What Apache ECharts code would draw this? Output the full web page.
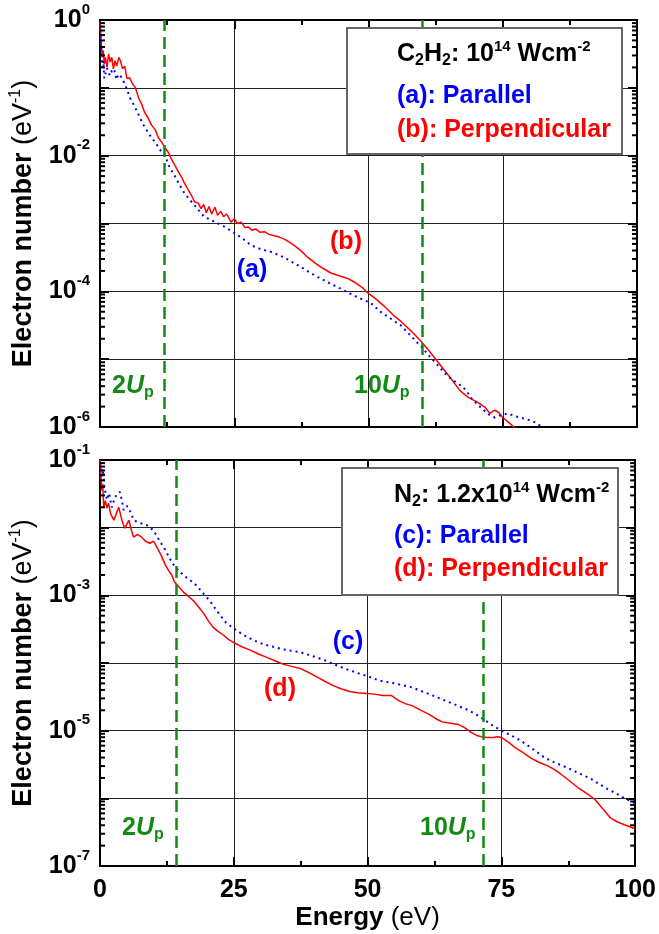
<!DOCTYPE html>
<html><head><meta charset="utf-8">
<script src="https://cdn.jsdelivr.net/npm/echarts@6/dist/echarts.min.js"></script>
<style>html,body{margin:0;padding:0;background:#fff}#c{width:659px;height:934px}</style>
</head><body><div id="c"></div>
<script>
// ---------- DATA (energies in eV, values as log10 of electron number) ----------
const energyTicks = [0, 25, 50, 75, 100];

// Top panel: C2H2, 1e14 W/cm2
const c2h2PerpE = [0,0.2,0.4,0.6,0.8,1.0,1.3,1.6,1.9,2.2,2.5,2.8,3.1,3.5,3.8,4.2,4.6,5.0,5.5,6.0,6.6,7.2,7.8,8.3,9.0,9.6,10.3,10.9,11.5,12.0,12.7,13.3,14.0,14.6,15.2,15.7,16.4,17.0,17.6,18.3,18.8,19.3,19.8,20.3,20.8,21.4,21.9,22.5,23.0,23.6,24.4,25.0,25.6,26.3,27.0,27.6,28.3,29.0,29.8,30.6,31.5,32.5,33.4,34.3,35.2,36.1,37.4,38.7,40.0,41.5,43.0,44.5,46.1,47.5,48.8,49.8,51.2,52.8,54.6,56.0,57.2,58.5,59.6,61.0,62.4,63.8,65.2,67.0,68.5,70.2,71.7,72.6,73.5,74.3,75.0,76.2,77.5];
const c2h2PerpLog = [-0.02,-0.3,-0.55,-0.45,-0.65,-0.55,-0.7,-0.5,-0.62,-0.55,-0.72,-0.6,-0.68,-0.55,-0.6,-0.72,-0.68,-0.86,-0.85,-0.93,-1.0,-1.15,-1.25,-1.36,-1.45,-1.55,-1.62,-1.74,-1.8,-1.87,-1.95,-2.05,-2.15,-2.24,-2.32,-2.4,-2.5,-2.58,-2.68,-2.7,-2.78,-2.72,-2.84,-2.75,-2.86,-2.76,-2.88,-2.82,-2.9,-2.86,-2.98,-2.93,-3.0,-2.98,-3.06,-3.05,-3.1,-3.08,-3.13,-3.12,-3.16,-3.18,-3.2,-3.23,-3.27,-3.32,-3.4,-3.5,-3.58,-3.66,-3.73,-3.77,-3.81,-3.87,-3.94,-4.02,-4.1,-4.21,-4.35,-4.44,-4.53,-4.63,-4.72,-4.85,-4.99,-5.13,-5.27,-5.46,-5.56,-5.63,-5.71,-5.8,-5.75,-5.79,-5.86,-5.94,-6.03];

const c2h2ParE = [0,0.15,0.3,0.45,0.6,0.8,1.0,1.3,1.6,1.9,2.2,2.6,3.1,3.4,3.7,4.1,4.4,5.0,5.6,6.3,7.2,8.1,9.3,10.6,11.5,12.4,13.0,13.8,14.8,15.7,16.7,17.5,18.3,19.4,20.7,22.0,23.5,25.0,26.5,28.1,30.0,31.9,34.3,35.8,37.4,39.0,40.6,42.5,44.3,46.2,48.0,50.4,52.2,54.1,56.0,58.3,60.0,61.5,63.0,64.6,66.1,67.6,68.5,69.4,71.0,72.6,73.5,74.5,75.9,77.3,78.7,80.0,81.3,82.5];
const c2h2ParLog = [-0.15,-0.35,-0.5,-0.7,-0.6,-0.86,-0.8,-0.71,-0.78,-0.82,-0.75,-0.72,-0.88,-0.8,-0.82,-0.85,-0.87,-1.02,-1.15,-1.25,-1.4,-1.55,-1.7,-1.84,-1.95,-2.06,-2.18,-2.28,-2.43,-2.55,-2.65,-2.72,-2.8,-2.9,-2.95,-3.0,-3.06,-3.14,-3.22,-3.32,-3.38,-3.42,-3.5,-3.57,-3.64,-3.72,-3.79,-3.87,-3.94,-4.02,-4.09,-4.17,-4.3,-4.4,-4.5,-4.69,-4.83,-4.97,-5.1,-5.24,-5.33,-5.41,-5.5,-5.6,-5.72,-5.83,-5.86,-5.83,-5.8,-5.84,-5.87,-5.9,-5.94,-6.02];

// Bottom panel: N2, 1.2e14 W/cm2
const n2PerpE = [0,0.15,0.3,0.5,0.7,1.0,1.3,1.6,2.0,2.6,3.0,3.5,4.1,4.6,5.0,5.4,5.9,6.3,7.0,7.8,8.5,9.3,10.0,10.7,11.5,12.2,12.8,13.4,13.9,14.8,15.7,16.6,17.6,18.5,19.4,20.2,21.1,22.0,23.1,24.0,25.0,26.5,28.1,29.7,31.3,32.8,34.3,35.8,37.4,39.0,40.6,42.0,43.5,45.0,46.7,48.2,49.8,51.3,52.8,54.4,55.9,57.0,58.3,60.0,61.5,62.7,63.9,65.5,67.0,68.2,69.4,70.4,71.3,72.4,73.5,74.3,75.0,76.3,77.6,79.0,80.6,82.1,83.7,85.0,86.1,87.7,89.3,90.8,92.4,93.9,95.4,96.7,98.0,99.0,100];
const n2PerpLog = [-1.0,-1.2,-1.45,-1.35,-1.7,-1.6,-1.71,-1.64,-1.8,-1.89,-1.8,-1.7,-1.89,-2.01,-1.95,-1.89,-2.05,-2.14,-2.1,-2.14,-2.2,-2.23,-2.2,-2.3,-2.42,-2.55,-2.63,-2.7,-2.8,-2.88,-2.96,-3.02,-3.09,-3.18,-3.27,-3.37,-3.47,-3.53,-3.59,-3.65,-3.7,-3.76,-3.81,-3.87,-3.92,-3.97,-4.02,-4.05,-4.08,-4.14,-4.21,-4.27,-4.33,-4.38,-4.42,-4.44,-4.45,-4.46,-4.48,-4.48,-4.56,-4.6,-4.63,-4.7,-4.76,-4.82,-4.87,-4.89,-4.91,-4.96,-5.03,-5.07,-5.09,-5.1,-5.1,-5.09,-5.1,-5.17,-5.25,-5.32,-5.41,-5.47,-5.52,-5.58,-5.64,-5.74,-5.84,-5.92,-6.01,-6.15,-6.29,-6.35,-6.39,-6.42,-6.45];

const n2ParE = [0,0.2,0.4,0.6,0.8,1.0,1.3,1.7,2.2,2.8,3.3,3.7,4.1,4.4,5.0,5.4,6.3,7.4,8.7,10.0,11.1,12.0,12.8,13.9,14.8,15.7,17.6,19.3,20.7,22.2,23.5,25.0,26.5,28.1,29.7,31.3,32.8,34.3,35.8,37.4,39.0,40.6,42.0,43.5,45.0,46.7,48.2,49.8,52.2,55.0,58.3,61.5,64.6,66.8,68.9,70.5,72.0,73.5,75.0,76.8,78.7,81.0,83.1,85.2,87.4,89.5,91.7,93.3,94.8,96.5,98.0,100];
const n2ParLog = [-0.95,-1.1,-1.25,-1.15,-1.4,-1.47,-1.59,-1.49,-1.7,-1.55,-1.5,-1.47,-1.6,-1.74,-1.68,-1.71,-1.89,-1.93,-1.96,-2.04,-2.19,-2.3,-2.42,-2.57,-2.64,-2.71,-2.82,-2.97,-3.1,-3.27,-3.4,-3.49,-3.57,-3.64,-3.7,-3.74,-3.77,-3.8,-3.82,-3.84,-3.88,-3.92,-3.96,-4.01,-4.06,-4.11,-4.15,-4.19,-4.26,-4.3,-4.36,-4.46,-4.56,-4.63,-4.7,-4.77,-4.85,-4.93,-5.0,-5.07,-5.15,-5.28,-5.4,-5.48,-5.55,-5.63,-5.71,-5.79,-5.86,-5.93,-6.0,-6.07];

// Ponderomotive energy markers (2Up, 10Up)
const upLinesTop = [12, 60];
const upLinesBottom = [14.3, 71.7];

// ---------- STYLE ----------
const FF = '"Liberation Sans", Arial, Helvetica, sans-serif';
const RED = '#ff0000', BLUE = '#0000ff', GREEN = '#138a13';
const GRID_TOP = {left: 97, top: 20, width: 540, height: 407};
const GRID_BOT = {left: 97, top: 460, width: 540, height: 406};

const toPairs = (E, L) => E.map((e, i) => [e, Math.pow(10, L[i])]);

const tickRich = {
  b: {fontFamily: FF, fontSize: 25, fontWeight: 'bold', color: '#000', lineHeight: 36},
  s: {fontFamily: FF, fontSize: 15, fontWeight: 'bold', color: '#000', verticalAlign: 'top', lineHeight: 10}
};
const yNameRich = {
  b: {fontFamily: FF, fontSize: 27, fontWeight: 'bold', color: '#000', lineHeight: 32},
  n: {fontFamily: FF, fontSize: 27, fontWeight: 'normal', color: '#000', lineHeight: 32},
  s: {fontFamily: FF, fontSize: 16, fontWeight: 'normal', color: '#000', verticalAlign: 'top', lineHeight: 12}
};
const xNameRich = {
  b: {fontFamily: FF, fontSize: 26, fontWeight: 'bold', color: '#000', lineHeight: 30},
  n: {fontFamily: FF, fontSize: 26, fontWeight: 'normal', color: '#000', lineHeight: 30}
};

function xAxisPair(gridIndex, showLabels) {
  const common = {
    gridIndex, type: 'value', min: 0, max: 100, interval: 25,
    axisLine: {show: true, onZero: false, lineStyle: {color: '#000', width: 2}},
    axisTick: {show: true, inside: true, length: 9, lineStyle: {color: '#000', width: 2}},
    minorTick: {show: true, splitNumber: 2, length: 5, lineStyle: {color: '#000', width: 2}},
    minorSplitLine: {show: false}
  };
  return [
    Object.assign({}, common, {
      position: 'bottom',
      splitLine: {show: true, lineStyle: {color: '#222', width: 1}},
      axisLabel: showLabels ? {show: true, margin: 12, fontFamily: FF, fontSize: 25, fontWeight: 'bold', color: '#000',
        formatter: v => energyTicks.includes(v) ? String(v) : ''} : {show: false},
      name: showLabels ? '{b|Energy }{n|(eV)}' : '',
      nameLocation: 'middle', nameGap: 37,
      nameTextStyle: {rich: xNameRich}
    }),
    Object.assign({}, common, {position: 'top', splitLine: {show: false}, axisLabel: {show: false}})
  ];
}

function yAxisPair(gridIndex, min, max, labelParity) {
  const common = {
    gridIndex, type: 'log', logBase: 10, min, max, splitNumber: Math.round(Math.log10(max / min)),
    interval: 1,
    axisLine: {show: true, onZero: false, lineStyle: {color: '#000', width: 2}},
    axisTick: {show: true, inside: true, length: 9, lineStyle: {color: '#000', width: 2}},
    minorTick: {show: false}
  };
  return [
    Object.assign({}, common, {
      position: 'left',
      splitLine: {show: true, lineStyle: {color: '#222', width: 1}},
      axisLabel: {show: true, margin: 10, rich: tickRich,
        formatter: v => {
          const e = Math.round(Math.log10(v));
          if (Math.abs(e % 2) !== labelParity) return '';
          return '{b|10}{s|' + (e < 0 ? '-' + (-e) : e) + '}';
        }},
      name: '{b|Electron number }{n|(eV}{s|-1}{n|)}',
      nameLocation: 'middle', nameGap: 60, nameRotate: 90,
      nameTextStyle: {rich: yNameRich}
    }),
    Object.assign({}, common, {position: 'right', splitLine: {show: false}, axisLabel: {show: false}})
  ];
}

// minor log ticks (2..9 x 10^k), drawn as axis decoration on both sides
function minorVals(minExp, maxExp) {
  const a = [];
  for (let e = minExp; e < maxExp; e++) for (let k = 2; k <= 9; k++) a.push([0, k * Math.pow(10, e)]);
  return a;
}
function minorTickSeries(xi, yi, minExp, maxExp) {
  return {
    type: 'custom', xAxisIndex: xi, yAxisIndex: yi, silent: true, clip: false, z: 5,
    data: minorVals(minExp, maxExp),
    renderItem: (params, api) => {
      const cs = params.coordSys;
      const y = api.coord([0, api.value(1)])[1];
      const st = {stroke: '#000', lineWidth: 2};
      return {type: 'group', children: [
        {type: 'line', shape: {x1: cs.x, y1: y, x2: cs.x + 5, y2: y}, style: st},
        {type: 'line', shape: {x1: cs.x + cs.width - 5, y1: y, x2: cs.x + cs.width, y2: y}, style: st}
      ]};
    }
  };
}

function upMarkLine(vals) {
  return {silent: true, symbol: ['none', 'none'], label: {show: false},
    lineStyle: {color: GREEN, type: [12, 6], width: 2.5},
    data: vals.map(v => ({xAxis: v}))};
}

const xs = xAxisPair(0, false).concat(xAxisPair(1, true));
const ys = yAxisPair(0, 1e-6, 1, 0).concat(yAxisPair(1, 1e-7, 1e-1, 1));

const series = [
  {type: 'line', name: '(b): Perpendicular', xAxisIndex: 0, yAxisIndex: 0, data: toPairs(c2h2PerpE, c2h2PerpLog),
   showSymbol: false, lineStyle: {color: RED, width: 1.5}, z: 3, markLine: upMarkLine(upLinesTop)},
  {type: 'line', name: '(a): Parallel', xAxisIndex: 0, yAxisIndex: 0, data: toPairs(c2h2ParE, c2h2ParLog),
   showSymbol: false, lineStyle: {color: BLUE, width: 2, type: [2, 4]}, z: 4},
  {type: 'line', name: '(d): Perpendicular', xAxisIndex: 2, yAxisIndex: 2, data: toPairs(n2PerpE, n2PerpLog),
   showSymbol: false, lineStyle: {color: RED, width: 1.5}, z: 3, markLine: upMarkLine(upLinesBottom)},
  {type: 'line', name: '(c): Parallel', xAxisIndex: 2, yAxisIndex: 2, data: toPairs(n2ParE, n2ParLog),
   showSymbol: false, lineStyle: {color: BLUE, width: 2, type: [2, 4]}, z: 4},
  minorTickSeries(0, 0, -6, 0),
  minorTickSeries(2, 2, -7, -1)
];

// ---------- TEXT OVERLAYS ----------
const legRich = (color) => ({
  m: {fontFamily: FF, fontSize: 25, fontWeight: 'bold', fill: color, color: color, lineHeight: 30},
  d: {fontFamily: FF, fontSize: 16, fontWeight: 'bold', fill: color, color: color, verticalAlign: 'bottom', lineHeight: 8},
  u: {fontFamily: FF, fontSize: 15, fontWeight: 'bold', fill: color, color: color, verticalAlign: 'top', lineHeight: 12},
  i: {fontFamily: FF, fontSize: 25, fontWeight: 'bold', fontStyle: 'italic', fill: color, color: color, lineHeight: 30}
});
function txt(x, y, text, color, align) {
  return {type: 'text', x, y, z: 101, silent: true,
    style: {text, rich: legRich(color), fill: color, align: align || 'left', verticalAlign: 'middle',
      font: 'bold 25px ' + FF}};
}
function box(x, y, w, h) {
  return {type: 'rect', x, y, z: 100, silent: true, shape: {x: 0, y: 0, width: w, height: h},
    style: {fill: '#fff', stroke: '#666', lineWidth: 2}};
}

const graphic = [
  box(347, 28, 275, 126),
  txt(397, 54, '{m|C}{d|2}{m|H}{d|2}{m|: 10}{u|14}{m| Wcm}{u|-2}', '#000'),
  txt(397, 96, '{m|(a): Parallel}', BLUE),
  txt(397, 130, '{m|(b): Perpendicular}', RED),
  box(342, 468, 276, 127),
  txt(394, 495, '{m|N}{d|2}{m|: 1.2x10}{u|14}{m| Wcm}{u|-2}', '#000'),
  txt(394, 536, '{m|(c): Parallel}', BLUE),
  txt(394, 569, '{m|(d): Perpendicular}', RED),
  txt(346, 242, '{m|(b)}', RED, 'center'),
  txt(252, 270, '{m|(a)}', BLUE, 'center'),
  txt(348, 642, '{m|(c)}', BLUE, 'center'),
  txt(280, 689, '{m|(d)}', RED, 'center'),
  txt(112, 386, '{m|2}{i|U}{d|p}', GREEN),
  txt(354, 386, '{m|10}{i|U}{d|p}', GREEN),
  txt(122, 828, '{m|2}{i|U}{d|p}', GREEN),
  txt(420, 828, '{m|10}{i|U}{d|p}', GREEN)
];

const chart = echarts.init(document.getElementById('c'), null, {renderer: 'canvas'});
chart.setOption({
  backgroundColor: '#fff',
  animation: false,
  grid: [GRID_TOP, GRID_BOT],
  xAxis: xs,
  yAxis: ys,
  series,
  graphic
});
</script></body></html>
